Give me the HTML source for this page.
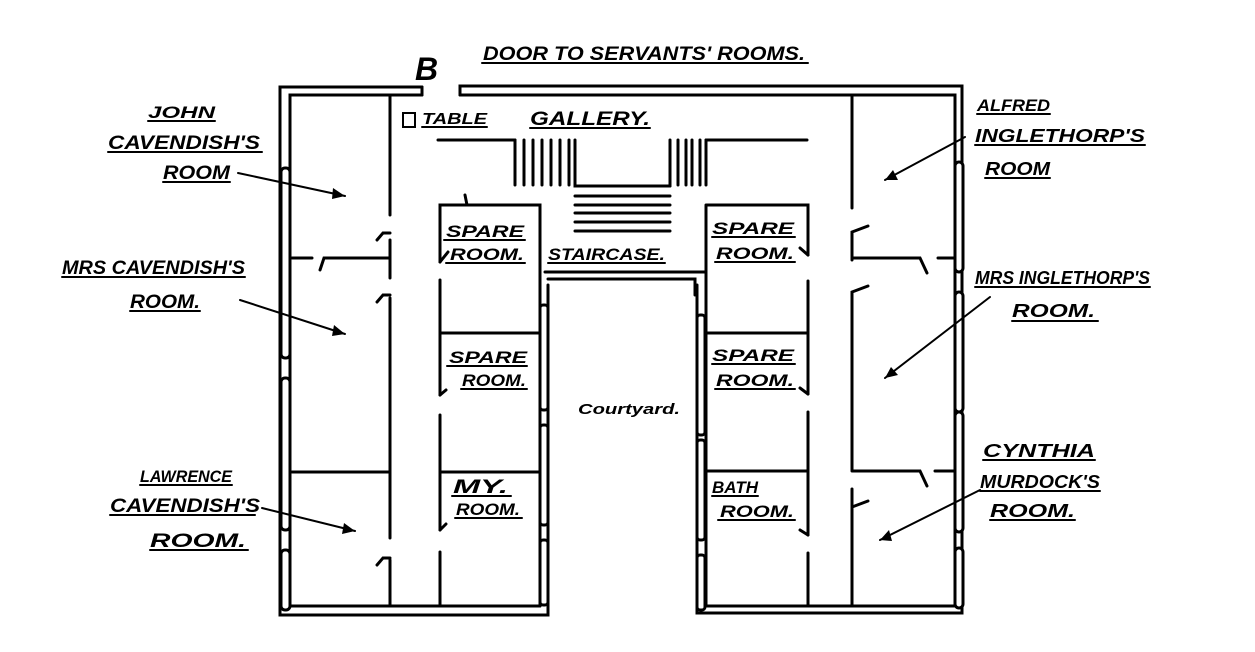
<!DOCTYPE html>
<html><head><meta charset="utf-8"><style>
html,body{margin:0;padding:0;background:#fff;width:1255px;height:652px;overflow:hidden}
svg{display:block}
text{font-family:"Liberation Sans",sans-serif;font-style:italic;font-weight:bold;fill:#000}
</style></head><body>
<svg width="1255" height="652" viewBox="0 0 1255 652" xmlns="http://www.w3.org/2000/svg">
<g stroke="#000" stroke-width="3" fill="none" stroke-linecap="round">
<path d="M422 87 H280 V615 H548 V285"/>
<path d="M422 95 H290 V606 H540"/>
<line x1="422" y1="87" x2="422" y2="95"/>
<path d="M460 95 V86 H962 V613 H697 V285"/>
<path d="M460 95 H955 V606 H706"/>
<rect x="281" y="168" width="9" height="190" rx="4" fill="#fff"/>
<rect x="281" y="378" width="9" height="152" rx="4" fill="#fff"/>
<rect x="281" y="550" width="9" height="60" rx="4" fill="#fff"/>
<rect x="955" y="162" width="8" height="110" rx="4" fill="#fff"/>
<rect x="955" y="292" width="8" height="120" rx="4" fill="#fff"/>
<rect x="955" y="412" width="8" height="120" rx="4" fill="#fff"/>
<rect x="955" y="548" width="8" height="60" rx="4" fill="#fff"/>
<rect x="540" y="305" width="8" height="105" rx="3" fill="#fff"/>
<rect x="540" y="425" width="8" height="100" rx="3" fill="#fff"/>
<rect x="540" y="540" width="8" height="65" rx="3" fill="#fff"/>
<rect x="697" y="315" width="8" height="120" rx="3" fill="#fff"/>
<rect x="697" y="440" width="8" height="100" rx="3" fill="#fff"/>
<rect x="697" y="555" width="8" height="55" rx="3" fill="#fff"/>
<path d="M390 95 V215 M390 240 V278 M390 298 V538 M390 560 V606"/>
<path d="M377 240 L383 233 H390 M377 302 L383 295 H390 M377 565 L383 558 H390"/>
<path d="M292 258 H312 M320 270 L324 258 H390"/>
<line x1="292" y1="472" x2="390" y2="472"/>
<path d="M440 262 V205 H540 V606 M440 280 V395 M440 415 V530 M440 552 V606"/>
<path d="M440 262 L448 252 M440 395 L446 390 M440 530 L446 524"/>
<line x1="440" y1="333" x2="540" y2="333"/>
<line x1="440" y1="472" x2="540" y2="472"/>
<line x1="465" y1="195" x2="467" y2="205"/>
<line x1="438" y1="140" x2="515" y2="140"/>
<path d="M515 140 V185 M524 140 V185 M533 140 V185 M542 140 V185 M551 140 V185 M560 140 V185 M569 140 V185 M575 140 V186 H670"/>
<path d="M670 186 V140 M678 140 V185 M686 140 V185 M692 140 V185 M700 140 V185 M706 140 V185"/>
<line x1="706" y1="140" x2="807" y2="140"/>
<path d="M575 196 H670 M575 205 H670 M575 213 H670 M575 222 H670 M575 231 H670"/>
<path d="M545 272 H706 M548 279 H695 V295"/>
<path d="M706 205 H808 V255 M808 281 V394 M808 412 V535 M808 553 V606 M706 205 V606"/>
<path d="M800 248 L808 255 M800 388 L808 394 M800 530 L808 535"/>
<line x1="706" y1="333" x2="808" y2="333"/>
<line x1="706" y1="471" x2="808" y2="471"/>
<path d="M852 96 V208 M852 260 V232 L868 226 M852 318 V292 L868 286 M852 489 V606 M852 318 V470 M852 535 V507 L868 501"/>
<path d="M852 258 H920 L927 273 M938 258 H955 M852 471 H920 L927 486 M935 471 H955"/>
<rect x="403" y="113" width="12" height="14" stroke-width="2"/>
<g stroke-width="2">
<path d="M482 63 H808 M422 127 H487 M530 128 H650 M444 240 H525 M446 263 H525 M548 263 H665 M447 366 H527 M461 389 H527 M452 496 H511 M455 518 H522 M712 237 H795 M715 262 H795 M712 364 H795 M715 389 H795 M712 496 H758 M718 520 H795"/>
<path d="M148 121 H215 M108 152 H262 M163 182 H230 M62 277 H245 M130 311 H200 M140 485 H232 M110 515 H255 M150 550 H248"/>
<path d="M977 114 H1050 M975 145 H1145 M985 178 H1050 M975 287 H1150 M1012 321 H1098 M983 460 H1095 M980 491 H1100 M990 520 H1075"/>
</g>
<g stroke-width="2">
<path d="M238 173 L345 196 M240 300 L345 334 M262 508 L355 531"/>
<path d="M965 137 L885 180 M990 297 L885 378 M980 490 L880 540"/>
</g>
</g>
<g fill="#000">
<path d="M345 196 L333 188 L332 199 Z M345 334 L334 325 L332 336 Z M355 531 L344 523 L342 534 Z"/>
<path d="M885 180 L893 170 L898 180 Z M885 378 L891 367 L898 375 Z M880 540 L889 530 L892 541 Z"/>
</g>
<text x="415" y="80" font-size="32">B</text>
<text x="483" y="60" font-size="19" textLength="322" lengthAdjust="spacingAndGlyphs">DOOR TO SERVANTS' ROOMS.</text>
<text x="422" y="124" font-size="16" textLength="65" lengthAdjust="spacingAndGlyphs">TABLE</text>
<text x="530" y="125" font-size="19" textLength="120" lengthAdjust="spacingAndGlyphs">GALLERY.</text>
<text x="446" y="237" font-size="17" textLength="78" lengthAdjust="spacingAndGlyphs">SPARE</text>
<text x="450" y="260" font-size="17" textLength="74" lengthAdjust="spacingAndGlyphs">ROOM.</text>
<text x="548" y="260" font-size="17" textLength="117" lengthAdjust="spacingAndGlyphs">STAIRCASE.</text>
<text x="449" y="363" font-size="17" textLength="78" lengthAdjust="spacingAndGlyphs">SPARE</text>
<text x="462" y="386" font-size="17" textLength="64" lengthAdjust="spacingAndGlyphs">ROOM.</text>
<text x="453" y="493" font-size="19" textLength="55" lengthAdjust="spacingAndGlyphs">MY.</text>
<text x="456" y="515" font-size="17" textLength="64" lengthAdjust="spacingAndGlyphs">ROOM.</text>
<text x="712" y="234" font-size="17" textLength="82" lengthAdjust="spacingAndGlyphs">SPARE</text>
<text x="716" y="259" font-size="17" textLength="78" lengthAdjust="spacingAndGlyphs">ROOM.</text>
<text x="712" y="361" font-size="17" textLength="82" lengthAdjust="spacingAndGlyphs">SPARE</text>
<text x="716" y="386" font-size="17" textLength="78" lengthAdjust="spacingAndGlyphs">ROOM.</text>
<text x="712" y="493" font-size="17" textLength="46" lengthAdjust="spacingAndGlyphs">BATH</text>
<text x="720" y="517" font-size="17" textLength="74" lengthAdjust="spacingAndGlyphs">ROOM.</text>
<text x="578" y="414" font-size="15" textLength="102" lengthAdjust="spacingAndGlyphs">Courtyard.</text>
<text x="148" y="118" font-size="17" textLength="67" lengthAdjust="spacingAndGlyphs">JOHN</text>
<text x="108" y="149" font-size="19" textLength="152" lengthAdjust="spacingAndGlyphs">CAVENDISH'S</text>
<text x="163" y="179" font-size="19" textLength="67" lengthAdjust="spacingAndGlyphs">ROOM</text>
<text x="62" y="274" font-size="19" textLength="183" lengthAdjust="spacingAndGlyphs">MRS CAVENDISH'S</text>
<text x="130" y="308" font-size="19" textLength="70" lengthAdjust="spacingAndGlyphs">ROOM.</text>
<text x="140" y="482" font-size="17" textLength="92" lengthAdjust="spacingAndGlyphs">LAWRENCE</text>
<text x="110" y="512" font-size="19" textLength="150" lengthAdjust="spacingAndGlyphs">CAVENDISH'S</text>
<text x="150" y="547" font-size="19" textLength="96" lengthAdjust="spacingAndGlyphs">ROOM.</text>
<text x="977" y="111" font-size="17" textLength="73" lengthAdjust="spacingAndGlyphs">ALFRED</text>
<text x="975" y="142" font-size="18" textLength="170" lengthAdjust="spacingAndGlyphs">INGLETHORP'S</text>
<text x="985" y="175" font-size="18" textLength="65" lengthAdjust="spacingAndGlyphs">ROOM</text>
<text x="975" y="284" font-size="18" textLength="175" lengthAdjust="spacingAndGlyphs">MRS INGLETHORP'S</text>
<text x="1012" y="317" font-size="18" textLength="83" lengthAdjust="spacingAndGlyphs">ROOM.</text>
<text x="983" y="457" font-size="18" textLength="112" lengthAdjust="spacingAndGlyphs">CYNTHIA</text>
<text x="980" y="488" font-size="18" textLength="120" lengthAdjust="spacingAndGlyphs">MURDOCK'S</text>
<text x="990" y="517" font-size="18" textLength="85" lengthAdjust="spacingAndGlyphs">ROOM.</text>
</svg>
</body></html>
